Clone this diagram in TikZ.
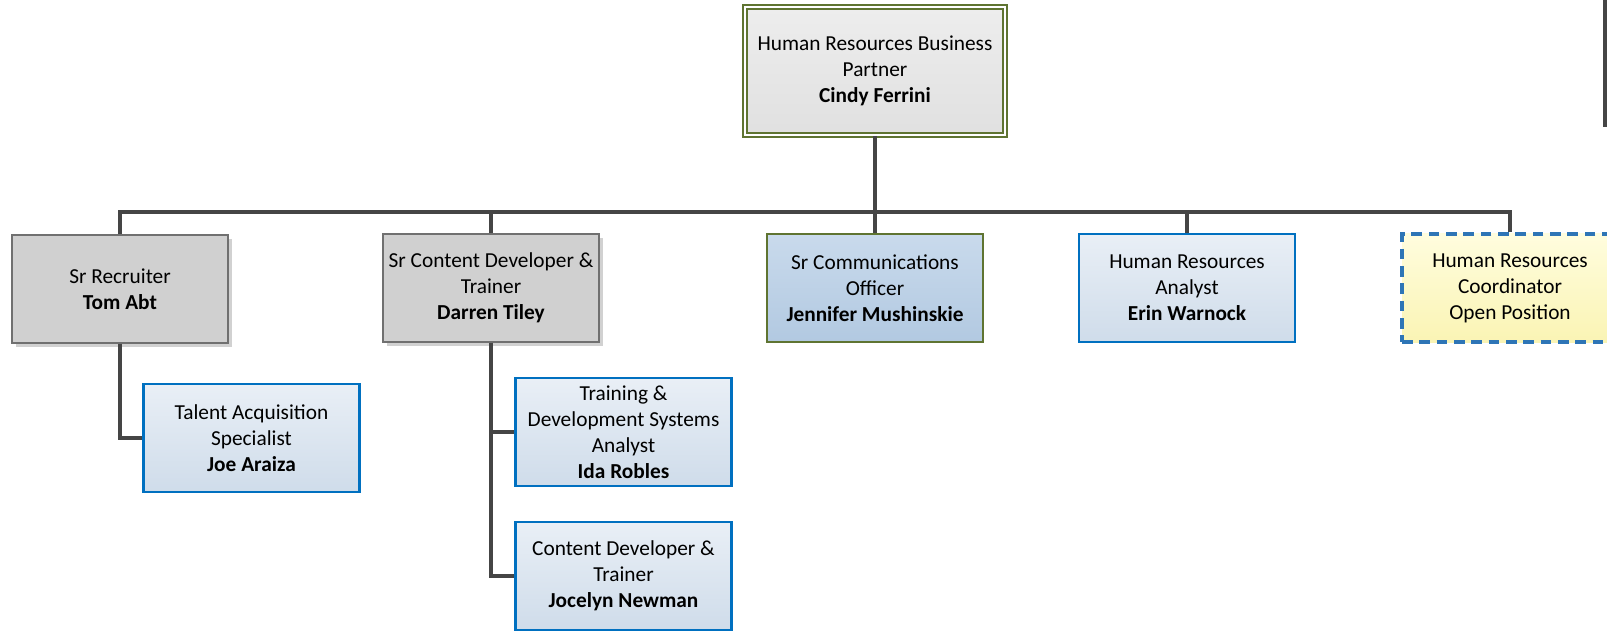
\documentclass[tikz,border=0pt]{standalone}
\usepackage{fontspec}
\setmainfont{Carlito}
\usetikzlibrary{shadows}
\definecolor{olivebd}{HTML}{5F7431}
\definecolor{bluebd}{HTML}{0070C0}
\definecolor{dashbd}{HTML}{2E75B6}
\definecolor{conncol}{HTML}{454545}
\definecolor{graybd}{HTML}{707070}
\definecolor{grayfill}{HTML}{D0D0D0}
\tikzset{
  box/.style={rectangle, inner sep=0pt, align=center, minimum width=162pt, minimum height=81pt,
    font=\fontsize{16}{19.5}\selectfont},
  topbox/.style={box, minimum width=195pt, minimum height=96pt, draw=olivebd, line width=1.5pt,
    double=white, double distance=1.2pt, top color=white!93!black, bottom color=white!88!black},
  graybox/.style={box, draw=graybd, line width=0.9pt, fill=grayfill,
    drop shadow={shadow xshift=3pt, shadow yshift=-3pt, fill=black!18, opacity=1}},
  bluebox/.style={box, draw=bluebd, line width=2pt, top color={rgb,255:red,233;green,239;blue,246},
    bottom color={rgb,255:red,207;green,220;blue,234}},
  commbox/.style={box, draw=olivebd, line width=2pt, top color={rgb,255:red,201;green,218;blue,236},
    bottom color={rgb,255:red,178;green,201;blue,225}},
  openbox/.style={box, draw=dashbd, line width=2.4pt, dash pattern=on 8pt off 5pt,
    top color={rgb,255:red,255;green,253;blue,222}, bottom color={rgb,255:red,250;green,244;blue,180}},
  conn/.style={draw=conncol, line width=2.4pt}
}
\begin{document}
\begin{tikzpicture}[x=0.75pt, y=-0.75pt]
\useasboundingbox (0,0) rectangle (1607,631);
\clip (0,0) rectangle (1607,631);
\fill[white] (0,0) rectangle (1607,631);

\node[topbox] (top) at (875,71) {Human Resources Business\\Partner\\\textbf{Cindy Ferrini}};

\node[graybox] (tom) at (120,289) {Sr Recruiter\\\textbf{Tom Abt}};
\node[graybox] (darren) at (491,288) {Sr Content Developer \&\\Trainer\\\textbf{Darren Tiley}};
\node[commbox] (jen) at (875,288) {Sr Communications\\Officer\\\textbf{Jennifer Mushinskie}};
\node[bluebox] (erin) at (1187,288) {Human Resources\\Analyst\\\textbf{Erin Warnock}};
\node[openbox] (open) at (1510,288) {Human Resources\\Coordinator\\Open Position};

\node[bluebox] (joe) at (251.5,438) {Talent Acquisition\\Specialist\\\textbf{Joe Araiza}};
\node[bluebox] (ida) at (623.5,432) {Training \&\\Development Systems\\Analyst\\\textbf{Ida Robles}};
\node[bluebox] (joc) at (623.5,576) {Content Developer \&\\Trainer\\\textbf{Jocelyn Newman}};

\coordinate (bus) at (0,212);
\coordinate (edgeA) at (1605,0);
\coordinate (edgeB) at (1605,127);

\draw[conn] (top.south) -- (top.south |- bus);
\draw[conn] (tom.north) -- (tom.north |- bus) -| (open.north);
\draw[conn] (darren.north) -- (darren.north |- bus);
\draw[conn] (jen.north) -- (jen.north |- bus);
\draw[conn] (erin.north) -- (erin.north |- bus);

\draw[conn] (tom.south) |- (joe.west);
\draw[conn] (darren.south) |- (ida.west);
\draw[conn] (darren.south) |- (joc.west);

\draw[conn] (edgeA) -- (edgeB);
\end{tikzpicture}
\end{document}
